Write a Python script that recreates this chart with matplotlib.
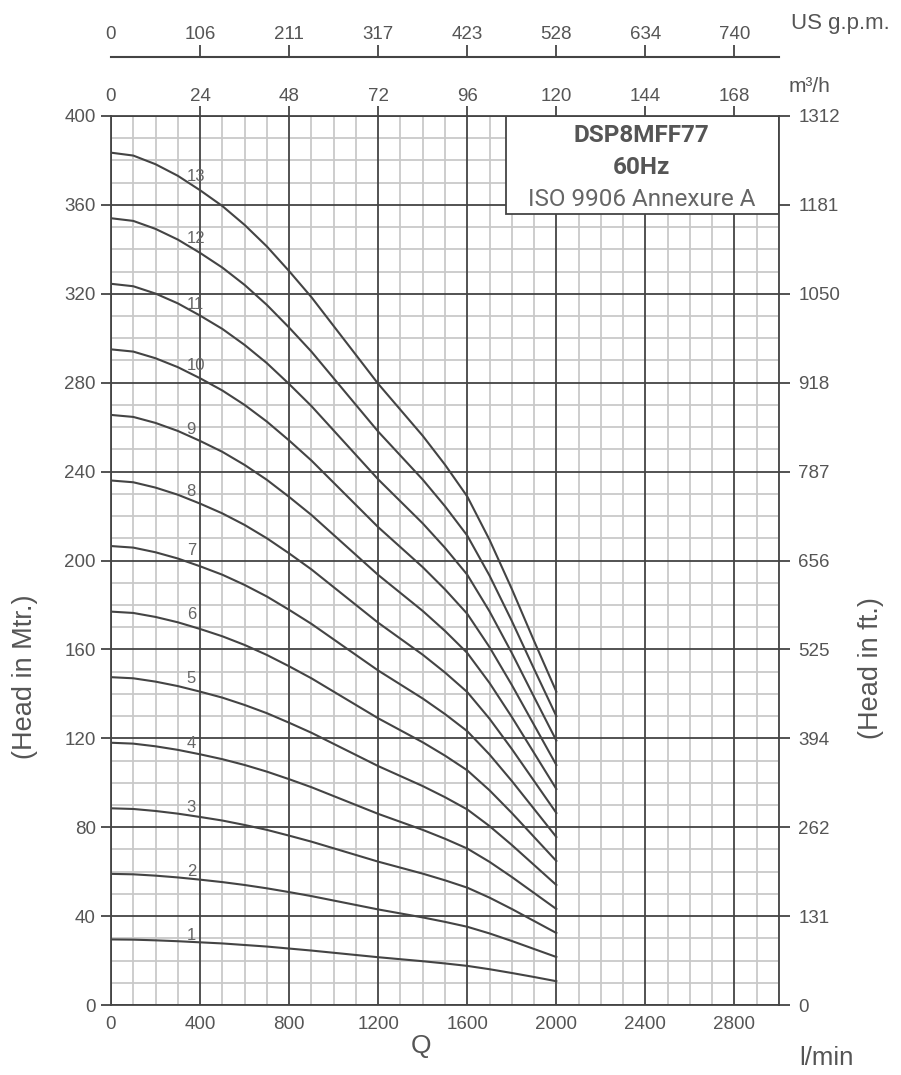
import matplotlib
matplotlib.use("Agg")
import matplotlib.pyplot as plt
from matplotlib.patches import Rectangle

plt.rcParams['font.family'] = ['Liberation Sans', 'DejaVu Sans']

# flow in l/min, head in m, one list per number of stages
flow = [0, 100, 200, 300, 400, 500, 600, 700, 800, 900, 1000,
        1100, 1200, 1300, 1400, 1500, 1600, 1700, 1800, 1900, 2000]
head_1 = [29.5, 29.4, 29.1, 28.7, 28.2, 27.7, 27.0, 26.3, 25.4, 24.5, 23.5,
          22.5, 21.5, 20.6, 19.7, 18.7, 17.6, 16.1, 14.4, 12.6, 10.7]
head_2 = [59.0, 58.8, 58.2, 57.4, 56.4, 55.3, 54.0, 52.5, 50.8, 49.0, 47.0,
          45.0, 43.0, 41.2, 39.4, 37.4, 35.2, 32.2, 28.8, 25.2, 21.6]
head_3 = [88.5, 88.2, 87.3, 86.1, 84.6, 83.0, 81.0, 78.8, 76.2, 73.5, 70.5,
          67.5, 64.5, 61.8, 59.1, 56.1, 52.8, 48.3, 43.2, 37.8, 32.4]
head_4 = [118.0, 117.6, 116.4, 114.8, 112.8, 110.6, 108.0, 105.0, 101.6, 98.0, 94.0,
          90.0, 86.0, 82.4, 78.8, 74.8, 70.4, 64.4, 57.6, 50.4, 43.2]
head_5 = [147.5, 147.0, 145.5, 143.5, 141.0, 138.3, 135.0, 131.3, 127.0, 122.5, 117.5,
          112.5, 107.5, 103.0, 98.5, 93.5, 88.0, 80.5, 72.0, 63.0, 54.0]
head_6 = [177.0, 176.4, 174.6, 172.2, 169.2, 165.9, 162.0, 157.5, 152.4, 147.0, 141.0,
          135.0, 129.0, 123.6, 118.2, 112.2, 105.6, 96.6, 86.4, 75.6, 64.8]
head_7 = [206.5, 205.8, 203.7, 200.9, 197.4, 193.6, 189.0, 183.8, 177.8, 171.5, 164.5,
          157.5, 150.5, 144.2, 137.9, 130.9, 123.2, 112.7, 100.8, 88.2, 75.6]
head_8 = [236.0, 235.2, 232.8, 229.6, 225.6, 221.2, 216.0, 210.0, 203.2, 196.0, 188.0,
          180.0, 172.0, 164.8, 157.6, 149.6, 140.8, 128.8, 115.2, 100.8, 86.4]
head_9 = [265.5, 264.6, 261.9, 258.3, 253.8, 248.9, 243.0, 236.3, 228.6, 220.5, 211.5,
          202.5, 193.5, 185.4, 177.3, 168.3, 158.4, 144.9, 129.6, 113.4, 97.2]
head_10 = [295.0, 294.0, 291.0, 287.0, 282.0, 276.5, 270.0, 262.5, 254.0, 245.0, 235.0,
           225.0, 215.0, 206.0, 197.0, 187.0, 176.0, 161.0, 144.0, 126.0, 108.0]
head_11 = [324.5, 323.4, 320.1, 315.7, 310.2, 304.2, 297.0, 288.8, 279.4, 269.5, 258.5,
           247.5, 236.5, 226.6, 216.7, 205.7, 193.6, 177.1, 158.4, 138.6, 119.0]
head_12 = [354.0, 352.8, 349.2, 344.4, 338.4, 331.8, 324.0, 315.0, 304.8, 294.0, 282.0,
           270.0, 258.0, 247.2, 236.4, 224.4, 211.2, 193.2, 172.8, 151.2, 130.0]
head_13 = [383.5, 382.2, 378.3, 373.1, 366.6, 359.5, 351.0, 341.3, 330.2, 318.5, 305.5,
           292.5, 279.5, 267.8, 256.1, 243.1, 228.8, 209.3, 187.2, 163.8, 141.0]
curves = [head_1, head_2, head_3, head_4, head_5, head_6, head_7,
          head_8, head_9, head_10, head_11, head_12, head_13]
curve_names = ['1', '2', '3', '4', '5', '6', '7', '8', '9', '10', '11', '12', '13']
name_flow = 340
name_heads = [31.1, 60.0, 88.9, 117.7, 146.8, 175.6, 204.7,
              230.9, 259.0, 287.8, 315.2, 344.7, 372.6]

lpm_ticks = [0, 400, 800, 1200, 1600, 2000, 2400, 2800]
lpm_labels = ['0', '400', '800', '1200', '1600', '2000', '2400', '2800']
m3h_labels = ['0', '24', '48', '72', '96', '120', '144', '168']
gpm_labels = ['0', '106', '211', '317', '423', '528', '634', '740']
head_ticks = [0, 40, 80, 120, 160, 200, 240, 280, 320, 360, 400]
ft_labels = ['0', '131', '262', '394', '525', '656', '787', '918', '1050', '1181', '1312']

title_lines = ['DSP8MFF77', '60Hz', 'ISO 9906 Annexure A']

dark = '#444444'
light = '#c9c9c9'
txt = '#555555'
tick_fs = 13.5

fig = plt.figure(figsize=(9.01, 10.75), dpi=100)
ax = fig.add_axes([111 / 901, 70 / 1075, 668 / 901, 889 / 1075])
ax.set_xlim(0, 3000)
ax.set_ylim(0, 400)

# grid drawn by hand so the dark lines sit over the light ones
for q in range(0, 3001, 100):
    if q % 400:
        ax.axvline(q, color=light, lw=1.3, zorder=1)
for h in range(0, 401, 10):
    if h % 40:
        ax.axhline(h, color=light, lw=1.3, zorder=1)
for q in lpm_ticks:
    ax.axvline(q, color=dark, lw=1.3, zorder=2)
for h in head_ticks:
    ax.axhline(h, color=dark, lw=1.3, zorder=2)

for h, name, yl in zip(curves, curve_names, name_heads):
    ax.plot(flow, h, color=dark, lw=1.5, zorder=3, solid_joinstyle='round')
    ax.text(name_flow, yl, name, ha='left', va='center', fontsize=12,
            color='#666666', zorder=3)

for s in ax.spines.values():
    s.set_color(dark)
    s.set_linewidth(1.3)
    s.set_zorder(6)

ax.set_xticks(lpm_ticks, lpm_labels)
ax.set_yticks(head_ticks)
ax.tick_params(axis='x', length=0, pad=8, labelsize=tick_fs, labelcolor=txt)
ax.tick_params(axis='y', direction='out', length=7, width=1.3, color=dark,
               pad=4, labelsize=tick_fs, labelcolor=txt)

# model box
ax.add_patch(Rectangle((1775, 356), 1225, 44, facecolor='white', edgecolor=dark,
                       lw=1.3, zorder=4))
ax.text(2382, 391.3, title_lines[0], ha='center', va='center', fontsize=17.5,
        fontweight='bold', color=txt, family='Roboto', zorder=5)
ax.text(2382, 376.9, title_lines[1], ha='center', va='center', fontsize=17.5,
        fontweight='bold', color=txt, family='Roboto', zorder=5)
ax.text(2382, 362.5, title_lines[2], ha='center', va='center', fontsize=17.5,
        color='#666666', family='Roboto', zorder=5)

# right axis in feet
ax2 = ax.twinx()
ax2.set_ylim(0, 400)
ax2.set_yticks(head_ticks, ft_labels)
ax2.tick_params(axis='y', direction='out', length=8, width=1.3, color=dark,
                pad=6, labelsize=tick_fs, labelcolor=txt)
for s in ax2.spines.values():
    s.set_visible(False)

# top axis in m3/h
top1 = ax.secondary_xaxis('top')
top1.set_xticks(lpm_ticks, m3h_labels)
top1.tick_params(direction='out', length=7.2, width=1.3, color=dark, pad=1,
                 labelsize=tick_fs, labelcolor=txt)
top1.spines['top'].set_visible(False)
top1.xaxis.get_major_ticks()[0].tick2line.set_visible(False)
top1.xaxis.get_major_ticks()[0].tick1line.set_visible(False)

# top axis in US gpm
top2 = ax.secondary_xaxis(1 + 59 / 889)
top2.set_xticks(lpm_ticks, gpm_labels)
top2.tick_params(direction='out', length=8.6, width=1.3, color=dark, pad=1.5,
                 labelsize=tick_fs, labelcolor=txt)
top2.spines['top'].set_color(dark)
top2.spines['top'].set_linewidth(1.5)
top2.xaxis.get_major_ticks()[0].tick2line.set_visible(False)
top2.xaxis.get_major_ticks()[0].tick1line.set_visible(False)

fig.text(840 / 901, 1 - 23 / 1075, 'US g.p.m.', ha='center', va='center', fontsize=16, color=txt)
fig.text(810 / 901, 1 - 87 / 1075, 'm³/h', ha='center', va='center', fontsize=15, color=txt)
fig.text(421 / 901, 1 - 1046 / 1075, 'Q', ha='center', va='center', fontsize=19, color=txt)
fig.text(826 / 901, 1 - 1058 / 1075, 'l/min', ha='center', va='center', fontsize=18.5, color=txt)
fig.text(25 / 901, 1 - 677 / 1075, '(Head in Mtr.)', ha='center', va='center',
         rotation=90, fontsize=19.5, color=txt)
fig.text(871 / 901, 1 - 668 / 1075, '(Head in ft.)', ha='center', va='center',
         rotation=90, fontsize=19.5, color=txt)

fig.savefig('out.png', dpi=100)
